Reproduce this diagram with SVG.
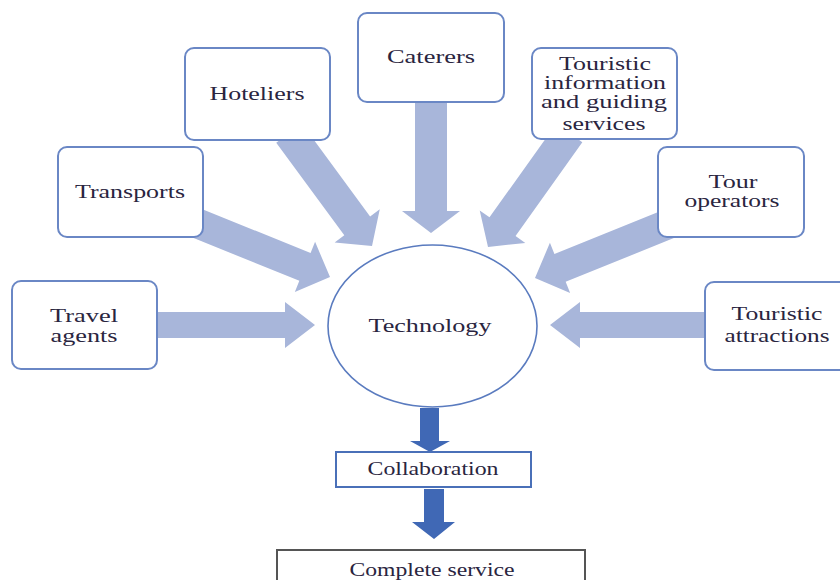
<svg xmlns="http://www.w3.org/2000/svg" width="840" height="580" viewBox="0 0 840 580">
  <style>
    .box { fill: #ffffff; stroke: #6a87c5; stroke-width: 2; }
    .flow { fill: #a8b6da; }
    .main { fill: #4068b5; }
    .hub { fill: #ffffff; stroke: #5a7bbf; stroke-width: 1.6; }
    .plain { fill: #ffffff; stroke: #4a70b8; stroke-width: 2; }
    .final { fill: #ffffff; stroke: #555555; stroke-width: 2; }
    text { font-family: "Liberation Serif", "Times New Roman", serif; font-size: 19px; fill: #2a2540; text-anchor: middle; }
  </style>

  <!-- connectors: wide block arrows into the hub, then down the chain -->
  <g id="connectors">
    <polygon id="a-travel" class="flow" transform="translate(315,325)" points="-160,-13 -30,-13 -30,-23 0,0 -30,23 -30,13 -160,13"/>
    <polygon id="a-attractions" class="flow" transform="translate(550,325) rotate(180)" points="-165,-13 -30,-13 -30,-23 0,0 -30,23 -30,13 -165,13"/>
    <polygon id="a-caterers" class="flow" transform="translate(431,233) rotate(90)" points="-135,-16 -22,-16 -22,-29 0,0 -22,29 -22,16 -135,16"/>
    <polygon id="a-hoteliers" class="flow" transform="translate(372,246) rotate(53.7)" points="-140,-16 -25,-16 -25,-28 0,0 -25,28 -25,16 -140,16"/>
    <polygon id="a-transports" class="flow" transform="translate(330,277) rotate(22)" points="-155,-15 -27,-15 -27,-27 0,0 -27,27 -27,15 -155,15"/>
    <polygon id="a-info" class="flow" transform="translate(488,247) rotate(125.5)" points="-140,-16 -25,-16 -25,-28 0,0 -25,28 -25,16 -140,16"/>
    <polygon id="a-tour" class="flow" transform="translate(535,278) rotate(158)" points="-155,-15 -27,-15 -27,-27 0,0 -27,27 -27,15 -155,15"/>
    <polygon id="a-collab" class="main" points="420,408 439,408 439,441 450,441 430,452 410,441 420,441"/>
    <polygon id="a-complete" class="main" points="424,489 444,489 444,522 455,522 434,539 412,522 424,522"/>
  </g>

  <g id="travel-agents">
    <rect class="box" x="12" y="281" width="145" height="88" rx="9"/>
    <text x="84" y="322" textLength="68" lengthAdjust="spacingAndGlyphs">Travel</text>
    <text x="84" y="342" textLength="67" lengthAdjust="spacingAndGlyphs">agents</text>
  </g>

  <g id="transports">
    <rect class="box" x="58" y="147" width="145" height="90" rx="9"/>
    <text x="130" y="198" textLength="110" lengthAdjust="spacingAndGlyphs">Transports</text>
  </g>

  <g id="hoteliers">
    <rect class="box" x="185" y="48" width="145" height="92" rx="9"/>
    <text x="257" y="100" textLength="95" lengthAdjust="spacingAndGlyphs">Hoteliers</text>
  </g>

  <g id="caterers">
    <rect class="box" x="358" y="13" width="146" height="89" rx="9"/>
    <text x="431" y="63" textLength="88" lengthAdjust="spacingAndGlyphs">Caterers</text>
  </g>

  <g id="touristic-information">
    <rect class="box" x="532" y="48" width="145" height="91" rx="9"/>
    <text x="605" y="70" textLength="92" lengthAdjust="spacingAndGlyphs">Touristic</text>
    <text x="605" y="89" textLength="122" lengthAdjust="spacingAndGlyphs">information</text>
    <text x="604" y="108" textLength="126" lengthAdjust="spacingAndGlyphs">and guiding</text>
    <text x="604" y="130" textLength="83" lengthAdjust="spacingAndGlyphs">services</text>
  </g>

  <g id="tour-operators">
    <rect class="box" x="658" y="147" width="146" height="90" rx="9"/>
    <text x="733" y="188" textLength="49" lengthAdjust="spacingAndGlyphs">Tour</text>
    <text x="732" y="207" textLength="95" lengthAdjust="spacingAndGlyphs">operators</text>
  </g>

  <g id="touristic-attractions">
    <rect class="box" x="705" y="282" width="145" height="88" rx="9"/>
    <text x="777" y="320" textLength="91" lengthAdjust="spacingAndGlyphs">Touristic</text>
    <text x="777" y="342" textLength="105" lengthAdjust="spacingAndGlyphs">attractions</text>
  </g>

  <g id="technology">
    <ellipse class="hub" cx="432.5" cy="326" rx="104.5" ry="81"/>
    <text x="430" y="332" textLength="123" lengthAdjust="spacingAndGlyphs">Technology</text>
  </g>

  <g id="collaboration">
    <rect class="plain" x="336" y="452" width="195" height="35"/>
    <text x="433" y="475" textLength="131" lengthAdjust="spacingAndGlyphs">Collaboration</text>
  </g>

  <g id="complete-service">
    <rect class="final" x="277" y="550" width="308" height="40"/>
    <text x="432" y="576" textLength="165" lengthAdjust="spacingAndGlyphs">Complete service</text>
  </g>
</svg>
